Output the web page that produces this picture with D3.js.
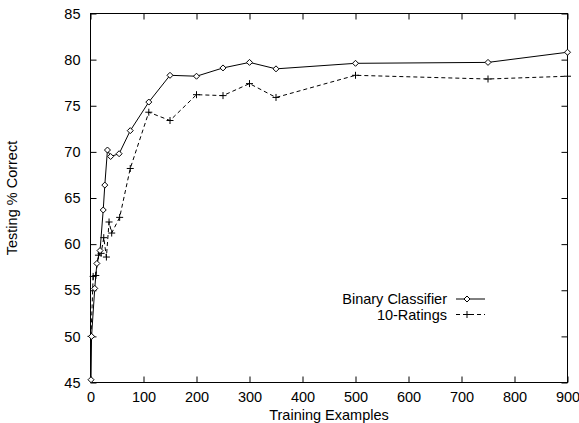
<!DOCTYPE html>
<html>
<head>
<meta charset="utf-8">
<script src="https://cdn.jsdelivr.net/npm/d3@7"></script>
<style>
  body { margin: 0; background: #fff; }
  svg { display: block; }
  text { font-family: "Liberation Sans", Arial, sans-serif; fill: #000; }
</style>
</head>
<body>
<svg id="chart" width="579" height="423"></svg>
<script>
// ---- data ----
const binaryX = [1, 2, 8, 12, 18, 24, 27, 32, 38, 54, 75, 110, 150, 200, 250, 300, 350, 500, 750, 900];
const binaryY = [45.3, 50.0, 55.2, 57.9, 59.3, 63.7, 66.4, 70.2, 69.5, 69.8, 72.3, 75.4, 78.3, 78.2, 79.1, 79.7, 79.0, 79.6, 79.7, 80.8];
const ratingsX = [1, 5, 10, 15, 20, 25, 30, 35, 40, 55, 75, 110, 150, 200, 250, 300, 350, 500, 750, 900];
const ratingsY = [50.0, 56.5, 56.6, 58.8, 59.0, 60.7, 58.6, 62.4, 61.2, 62.9, 68.2, 74.3, 73.4, 76.2, 76.1, 77.4, 75.9, 78.3, 77.9, 78.2];
const seriesNames = ["Binary Classifier", "10-Ratings"];
const xTicks = [0, 100, 200, 300, 400, 500, 600, 700, 800, 900];
const yTicks = [45, 50, 55, 60, 65, 70, 75, 80, 85];
const xTitle = "Training Examples";
const yTitle = "Testing % Correct";

// ---- layout ----
const L = 90.5, R = 567.5, T = 13.5, B = 382.5;
const FS = 14.5;
const svg = d3.select("#chart");
const x = d3.scaleLinear().domain([0, 900]).range([L, R]);
const y = d3.scaleLinear().domain([45, 85]).range([B, T]);
const tick = 6;

// frame
svg.append("rect").attr("x", L).attr("y", T).attr("width", R - L).attr("height", B - T)
  .attr("fill", "none").attr("stroke", "#000").attr("stroke-width", 1);

// axes with inward ticks, mirrored
const fmt = d3.format("d");
const xb = svg.append("g").attr("transform", `translate(0,${B})`)
  .call(d3.axisBottom(x).tickValues(xTicks).tickFormat(fmt).tickSizeInner(-tick).tickSizeOuter(0).tickPadding(9.5));
const xt = svg.append("g").attr("transform", `translate(0,${T})`)
  .call(d3.axisTop(x).tickValues(xTicks).tickFormat("").tickSizeInner(-tick).tickSizeOuter(0));
const yl = svg.append("g").attr("transform", `translate(${L},0)`)
  .call(d3.axisLeft(y).tickValues(yTicks).tickFormat(fmt).tickSizeInner(-tick).tickSizeOuter(0).tickPadding(10));
const yr = svg.append("g").attr("transform", `translate(${R},0)`)
  .call(d3.axisRight(y).tickValues(yTicks).tickFormat("").tickSizeInner(-tick).tickSizeOuter(0));
[xb, xt, yl, yr].forEach(g => {
  g.select(".domain").remove();
  g.selectAll("line").attr("stroke", "#000");
  g.selectAll("text").attr("font-size", FS).attr("font-family", "Liberation Sans, Arial, sans-serif").attr("fill", "#000");
});

// titles
svg.append("text").attr("x", (L + R) / 2).attr("y", 420).attr("text-anchor", "middle")
  .attr("font-size", FS).text(xTitle);
svg.append("text").attr("transform", `translate(17,${(T + B) / 2}) rotate(-90)`)
  .attr("text-anchor", "middle").attr("font-size", FS).text(yTitle);

// series
const line = d3.line().x(d => x(d[0])).y(d => y(d[1]));
const binary = binaryX.map((v, i) => [v, binaryY[i]]);
const ratings = ratingsX.map((v, i) => [v, ratingsY[i]]);

const diamond = (cx, cy, s) => `M${cx},${cy - s}L${cx + s},${cy}L${cx},${cy + s}L${cx - s},${cy}Z`;
const plus = (cx, cy, s) => `M${cx - s},${cy}H${cx + s}M${cx},${cy - s}V${cy + s}`;

svg.append("path").datum(ratings).attr("d", line).attr("fill", "none")
  .attr("stroke", "#000").attr("stroke-width", 1).attr("stroke-dasharray", "4,3");
svg.append("g").selectAll("path").data(ratings).join("path")
  .attr("d", d => plus(x(d[0]), y(d[1]), 3.5)).attr("stroke", "#000").attr("stroke-width", 1).attr("fill", "none");

svg.append("path").datum(binary).attr("d", line).attr("fill", "none")
  .attr("stroke", "#000").attr("stroke-width", 1);
svg.append("g").selectAll("path").data(binary).join("path")
  .attr("d", d => diamond(x(d[0]), y(d[1]), 3)).attr("stroke", "#000").attr("stroke-width", 1).attr("fill", "#fff");

// legend
const lg = svg.append("g");
const rows = [
  { name: seriesNames[0], dash: null, mark: "diamond", yy: 299 },
  { name: seriesNames[1], dash: "4,3", mark: "plus", yy: 314.5 }
];
rows.forEach(r => {
  lg.append("text").attr("x", 447).attr("y", r.yy + 5).attr("text-anchor", "end")
    .attr("font-size", FS).text(r.name);
  lg.append("line").attr("x1", 456).attr("x2", 485).attr("y1", r.yy).attr("y2", r.yy)
    .attr("stroke", "#000").attr("stroke-width", 1).attr("stroke-dasharray", r.dash);
  lg.append("path").attr("d", r.mark === "diamond" ? diamond(467, r.yy, 3) : plus(467, r.yy, 3.5))
    .attr("stroke", "#000").attr("fill", r.mark === "diamond" ? "#fff" : "none");
});
</script>
</body>
</html>
